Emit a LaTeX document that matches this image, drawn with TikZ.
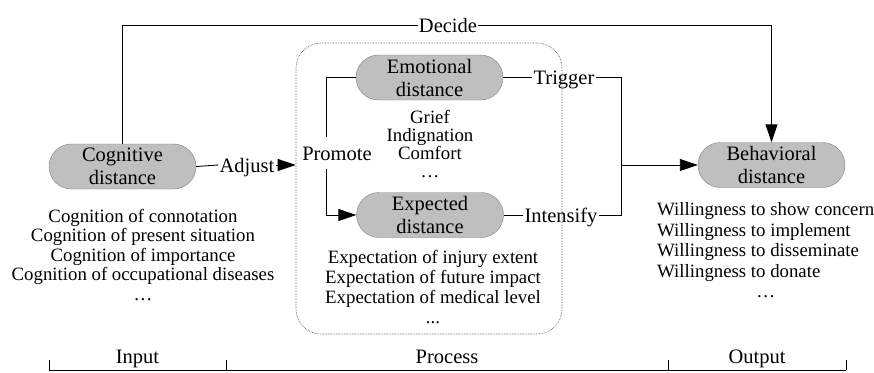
\documentclass[tikz,border=0pt]{standalone}
\usepackage{fontspec}
\setmainfont{Liberation Serif}
\usetikzlibrary{arrows.meta,shapes.misc}

\tikzset{
  dist/.style={rounded rectangle, draw=gray, fill=gray!50, minimum width=147pt, minimum height=45pt, inner sep=0pt, align=center, font=\fontsize{20.5}{23}\selectfont},
  lbl/.style={inner sep=1pt, text height=14pt, text depth=0pt, font=\fontsize{20.5}{23}\selectfont},
  items/.style={inner sep=0pt, align=center, font=\fontsize{18.8}{19.5}\selectfont},
  link/.style={line width=0.9pt},
  tip/.style={-{Triangle[length=18pt,width=12pt]}}
}

\begin{document}
\begin{tikzpicture}[x=1pt,y=-1pt]
\useasboundingbox (0,0) rectangle (874,372);

% Process frame
\node[draw=black!75, line width=0.6pt, densely dotted, rounded corners=25pt, minimum width=266pt, minimum height=291pt] (proc) at (429,188.5) {};

% Distances
\node[dist] (cog) at (122.5,166.5) {Cognitive\\distance};
\node[dist] (emo) at (429.5,77.5) {Emotional\\distance};
\node[dist] (exp) at (430,215) {Expected\\distance};
\node[dist] (beh) at (771.5,165) {Behavioral\\distance};

% Labels
\node[lbl] (decide) at (448,25) {Decide};
\node[lbl] (adjust) at (247,165) {Adjust};
\node[lbl, inner ysep=9pt] (promote) at (337,153) {Promote};
\node[lbl] (trigger) at (564,77.5) {Trigger};
\node[lbl] (intens) at (561,215) {Intensify};
\coordinate (pl) at (326,153);
\coordinate (join) at (621,165);

% Connectors
\draw[link] (cog.north) |- (decide.west);
\draw[link,tip] (decide.east) -| (beh.north);
\draw[link] (cog.east) -- (adjust.west);
\draw[link,tip] (adjust.east) -- (adjust.east -| proc.west);
\draw[link] (emo.west) -| (pl |- promote.north);
\draw[link,tip] (pl |- promote.south) |- (exp.west);
\draw[link] (emo.east) -- (trigger.west);
\draw[link] (trigger.east) -| (join);
\draw[link] (exp.east) -- (intens.west);
\draw[link] (intens.east) -| (join);
\draw[link,tip] (join) -- (beh.west);

% Item lists
\node[items, anchor=north] (cogitems) at (143,209) {Cognition of connotation\\Cognition of present situation\\Cognition of importance\\Cognition of occupational diseases\\…};
\node[items, anchor=north, font=\fontsize{18.8}{18}\selectfont] (emoitems) at (430,110) {Grief\\Indignation\\Comfort\\…};
\node[items, anchor=north, font=\fontsize{18.8}{20}\selectfont] (expitems) at (433,250) {Expectation of injury extent\\Expectation of future impact\\Expectation of medical level\\...};
\node[items, anchor=north west, font=\fontsize{18.8}{20.5}\selectfont] (behitems) at (657,201) {\begin{tabular}{@{}l@{}}Willingness to show concern\\Willingness to implement\\Willingness to disseminate\\Willingness to donate\\\multicolumn{1}{@{}c@{}}{…}\end{tabular}};

% Stages
\draw[line width=0.7pt] (49,370) -- (846,370);
\foreach \x in {49,226,668,846}
    \draw[line width=0.7pt] (\x,360) -- (\x,370);
\node[lbl, anchor=base] (input) at (137.5,363) {Input};
\node[lbl, anchor=base] (process) at (447,363) {Process};
\node[lbl, anchor=base] (output) at (757,363) {Output};

\end{tikzpicture}
\end{document}
